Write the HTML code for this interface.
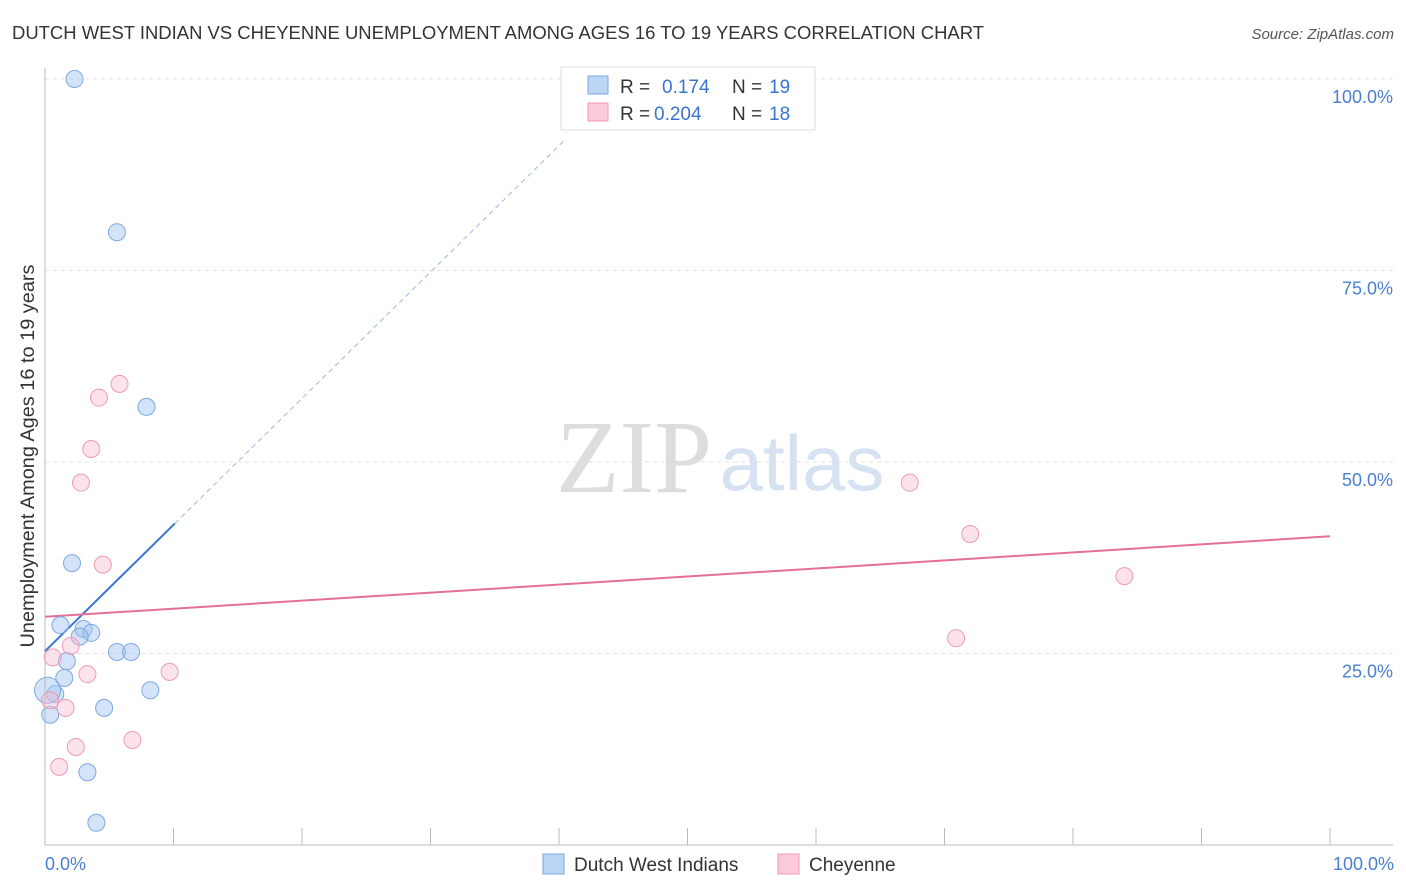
<!DOCTYPE html>
<html><head><meta charset="utf-8">
<style>
body{margin:0;background:#fff;font-family:"Liberation Sans",sans-serif;}
#c{position:absolute;left:0;top:0;}
</style></head>
<body>
<svg id="c" width="1406" height="892" xmlns="http://www.w3.org/2000/svg">
<text x="12" y="39" font-size="18" fill="#333" textLength="972" lengthAdjust="spacingAndGlyphs">DUTCH WEST INDIAN VS CHEYENNE UNEMPLOYMENT AMONG AGES 16 TO 19 YEARS CORRELATION CHART</text>
<text x="1394" y="39" font-size="15" fill="#555" text-anchor="end" font-style="italic">Source: ZipAtlas.com</text>
<g>
<text x="634" y="492" font-size="104" fill="#ddd" font-family="Liberation Serif" text-anchor="middle">ZIP</text>
<text x="802" y="490" font-size="78" fill="#d6e2f2" text-anchor="middle">atlas</text>
</g>
<g id="grid"></g>
<g id="axes"></g>
<g id="lines"></g>
<g id="pts"></g>
<text transform="translate(34,456) rotate(-90)" font-size="19.5" fill="#333" text-anchor="middle" textLength="383" lengthAdjust="spacingAndGlyphs">Unemployment Among Ages 16 to 19 years</text>
<text x="45" y="870" font-size="18" fill="#4a7fd0">0.0%</text>
<text x="1394" y="870" font-size="18" fill="#4a7fd0" text-anchor="end">100.0%</text>
<g>
<rect x="561" y="67" width="254" height="63" fill="#fff" stroke="#ddd"/>
<rect x="588" y="76" width="20" height="18" fill="#bcd4f5" stroke="#7aa6e0"/>
<rect x="588" y="103" width="20" height="18" fill="#fbcbd9" stroke="#f09ab5"/>
<text x="620" y="93" font-size="19" fill="#333">R = </text>
<text x="662" y="93" font-size="19" fill="#3b74d0">0.174</text>
<text x="732" y="93" font-size="19" fill="#333">N = </text>
<text x="769" y="93" font-size="19" fill="#3b74d0">19</text>
<text x="620" y="120" font-size="19" fill="#333">R = </text>
<text x="654" y="120" font-size="19" fill="#3b74d0">0.204</text>
<text x="732" y="120" font-size="19" fill="#333">N = </text>
<text x="769" y="120" font-size="19" fill="#3b74d0">18</text>
</g>
<g>
<rect x="543" y="854" width="21" height="20" fill="#bcd4f5" stroke="#7aa6e0"/>
<text x="574" y="871" font-size="19" fill="#333">Dutch West Indians</text>
<rect x="778" y="854" width="21" height="20" fill="#fbcbd9" stroke="#f09ab5"/>
<text x="809" y="871" font-size="19" fill="#333">Cheyenne</text>
</g>
</svg>
<script>
const blueX=[2.3,5.6,7.9,2.1,1.2,3.0,3.6,2.7,5.6,6.7,1.7,1.5,8.2,0.8,0.2,4.6,0.4,3.3,4.0];
const blueY=[100,80.0,57.2,36.8,28.7,28.2,27.7,27.2,25.2,25.2,24.0,21.8,20.2,19.7,20.2,17.9,17.0,9.5,2.9];
const pinkX=[5.8,4.2,3.6,2.8,4.5,0.6,2.0,3.3,9.7,1.6,2.4,1.1,6.8,67.3,72.0,84.0,70.9,0.4];
const pinkY=[60.2,58.4,51.7,47.3,36.6,24.5,26.0,22.3,22.6,17.9,12.8,10.2,13.7,47.3,40.6,35.1,27.0,18.9];
const yTicks=[25,50,75,100];
const yTickLabels=["25.0%","50.0%","75.0%","100.0%"];
const blueTrend=[25.3,1.65];
const pinkTrend=[29.8,0.105];
const X=v=>45+v*12.85, Y=v=>845-v*7.66;
const NS="http://www.w3.org/2000/svg";
function mk(t,a,p){const e=document.createElementNS(NS,t);for(const k in a)e.setAttribute(k,a[k]);p.appendChild(e);return e;}
const grid=document.getElementById('grid'),axes=document.getElementById('axes'),lines=document.getElementById('lines'),pts=document.getElementById('pts');
yTicks.forEach((t,i)=>{
 const l=mk('line',{x1:45,x2:1393,y1:Y(t),y2:Y(t),stroke:'#e3e3e3','stroke-dasharray':'4,4'},grid);
 
 
 const tx=mk('text',{x:1393,y:Y(t)+24,'font-size':18,fill:'#4a7fd0','text-anchor':'end'},grid);
 tx.textContent=yTickLabels[i];
 
 
});
const ax=mk('line',{x1:45,x2:1393,y1:845,y2:845,stroke:'#bbb'},axes);


const ay=mk('line',{x1:45,x2:45,y1:68,y2:845,stroke:'#bbb'},axes);


for(let i=0;i<=10;i++){const t=mk('line',{x1:X(i*10),x2:X(i*10),y1:828,y2:845,stroke:'#bbb'},axes);
 
 }
const bx2=10.1;
const b1=mk('line',{x1:X(0),y1:Y(blueTrend[0]),x2:X(bx2),y2:Y(blueTrend[0]+blueTrend[1]*bx2),stroke:'#3a76d4','stroke-width':2},lines);


const bx3=40.5;
const b2=mk('line',{x1:X(bx2),y1:Y(blueTrend[0]+blueTrend[1]*bx2),x2:X(bx3),y2:Y(blueTrend[0]+blueTrend[1]*bx3),stroke:'#9bb8e0','stroke-width':1,'stroke-dasharray':'5,4'},lines);


const p1=mk('line',{x1:X(0),y1:Y(pinkTrend[0]),x2:X(100),y2:Y(pinkTrend[0]+pinkTrend[1]*100),stroke:'#e46f98','stroke-width':2},lines);


blueX.forEach((x,i)=>{const c=mk('circle',{cx:X(x),cy:Y(blueY[i]),r:i==14?13:8.5,fill:'rgba(160,195,240,0.45)',stroke:'#7ea8e2','stroke-width':1},pts);
 
 });
pinkX.forEach((x,i)=>{const c=mk('circle',{cx:X(x),cy:Y(pinkY[i]),r:8.5,fill:'rgba(248,185,205,0.4)',stroke:'#ef9ab6','stroke-width':1},pts);
 
 });
</script>
</body></html>
